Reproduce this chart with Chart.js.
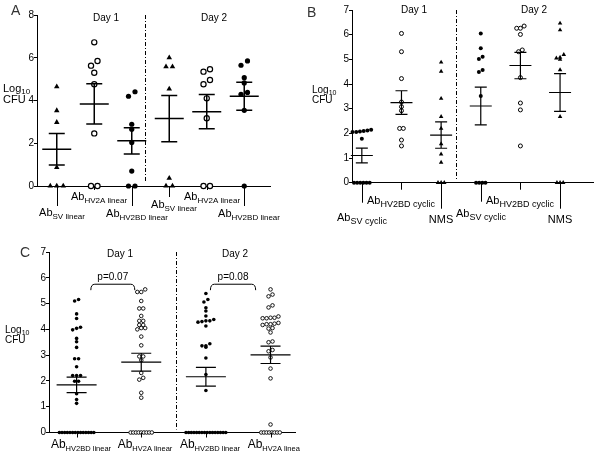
<!DOCTYPE html>
<html>
<head>
<meta charset="utf-8">
<script src="https://cdn.jsdelivr.net/npm/chart.js@4.4.1/dist/chart.umd.min.js"></script>
<style>
  html, body { margin: 0; padding: 0; background: #fff; }
  #wrap { position: relative; width: 598px; height: 459px; }
  canvas { position: absolute; }
</style>
</head>
<body>
<div id="wrap">
  <canvas id="chartA" width="300" height="228" style="left:0;top:0"></canvas>
  <canvas id="chartB" width="298" height="228" style="left:300px;top:0"></canvas>
  <canvas id="chartC" width="300" height="231" style="left:0;top:228px"></canvas>
</div>
<script>
// log10 CFU per animal

// Panel A
const labelsA = [['Ab', 'SV linear'], ['Ab', 'HV2A linear'], ['Ab', 'HV2BD linear'],
                 ['Ab', 'SV linear'], ['Ab', 'HV2A linear'], ['Ab', 'HV2BD linear']];
const markersA = ['tri', 'open', 'filled', 'tri', 'open', 'filled'];
const aSvDay1 = [4.65, 3.53, 2.98, 0.87, 0, 0, 0];
const aHv2aDay1 = [6.72, 5.85, 5.63, 5.30, 4.76, 2.46, 0, 0];
const aHv2bdDay1 = [4.41, 4.20, 2.89, 2.65, 2.04, 0.70, 0, 0];
const aSvDay2 = [6.0, 5.58, 5.58, 4.54, 0.37, 0, 0];
const aHv2aDay2 = [5.46, 5.35, 4.96, 4.76, 4.10, 3.17, 0, 0];
const aHv2bdDay2 = [5.85, 5.65, 5.07, 4.82, 4.38, 4.29, 3.54, 0];
const yTicksA = [0, 2, 4, 6, 8];

// Panel B
const labelsB = [['Ab', 'SV cyclic'], ['Ab', 'HV2BD cyclic'], ['NMS', ''],
                 ['Ab', 'SV cyclic'], ['Ab', 'HV2BD cyclic'], ['NMS', '']];
const markersB = ['filled', 'open', 'tri', 'filled', 'open', 'tri'];
const bSvDay1 = [2.15, 2.12, 2.10, 2.08, 2.05, 2.05, 1.78, 0, 0, 0, 0, 0, 0];
const bHv2bdDay1 = [6.05, 5.31, 4.22, 3.27, 3.08, 2.92, 2.20, 2.20, 1.73, 1.49];
const bNmsDay1 = [4.88, 4.51, 3.41, 2.68, 2.20, 1.57, 1.16, 0.82, 0, 0, 0];
const bSvDay2 = [6.05, 5.45, 5.11, 5.01, 4.57, 4.49, 3.51, 0, 0, 0, 0];
const bHv2bdDay2 = [6.35, 6.26, 6.26, 6.01, 5.38, 5.31, 4.26, 3.23, 2.95, 1.49];
const bNmsDay2 = [6.46, 6.19, 5.19, 5.08, 5.05, 5.00, 4.57, 2.68, 0, 0, 0];
const yTicksB = [0, 1, 2, 3, 4, 5, 6, 7];

// Panel C
const labelsC = [['Ab', 'HV2BD linear'], ['Ab', 'HV2A linear'], ['Ab', 'HV2BD linear'], ['Ab', 'HV2A linear']];
const markersC = ['filled', 'open', 'filled', 'open'];
const cHv2bdDay1 = [5.16, 5.10, 4.60, 4.42, 4.08, 4.04, 3.98, 3.65, 3.52, 3.30, 2.86, 2.86, 2.55,
                    2.21, 2.21, 2.21, 1.99, 1.99, 1.50, 1.28, 1.13,
                    0, 0, 0, 0, 0, 0, 0, 0, 0, 0, 0, 0, 0, 0];
const cHv2aDay1 = [5.55, 5.45, 5.45, 5.10, 4.81, 4.81, 4.52, 4.33, 4.33, 4.17, 4.17, 4.05, 4.05,
                   4.00, 3.72, 3.38, 2.95, 2.95, 2.80, 2.31, 2.12, 2.05, 1.54, 1.35,
                   0, 0, 0, 0, 0, 0, 0, 0, 0];
const cHv2bdDay2 = [5.39, 5.16, 5.06, 4.84, 4.71, 4.52, 4.38, 4.33, 4.33, 4.30, 4.28, 4.13,
                    3.44, 3.36, 3.36, 3.31, 2.89, 2.25, 1.63,
                    0, 0, 0, 0, 0, 0, 0, 0, 0, 0, 0, 0, 0, 0, 0, 0];
const cHv2aDay2 = [5.55, 5.35, 5.28, 4.93, 4.85, 4.50, 4.45, 4.45, 4.43, 4.43, 4.25, 4.22, 4.20,
                   4.20, 4.17, 4.05, 4.03, 3.88, 3.53, 3.50, 3.20, 3.15, 2.91, 2.48, 2.10, 0.31,
                   0, 0, 0, 0, 0, 0, 0, 0];
const yTicksC = [0, 1, 2, 3, 4, 5, 6, 7];
const pLabels = ['p=0.07', 'p=0.08'];

const dayLabels = ['Day 1', 'Day 2'];
const FONT = '"Liberation Sans", Arial, Helvetica, sans-serif';

// panel settings, looked up by canvas id in the plugin
const panels = {};

// spread points of similar height side by side (column scatter)
function swarm(values, pos, spacing, zeroSpacing, thresh) {
    const sorted = [...values].sort((a, b) => b - a);
    const clusters = [];
    sorted.forEach(v => {
        const last = clusters[clusters.length - 1];
        if (last && last[0] - v <= thresh) last.push(v);
        else clusters.push([v]);
    });
    const pts = [];
    clusters.forEach(c => {
        c.sort((a, b) => a - b);
        const sp = c[0] === 0 ? zeroSpacing : spacing;
        c.forEach((v, k) => pts.push({ x: pos + (k - (c.length - 1) / 2) * sp, y: v }));
    });
    return pts;
}

function drawLabel(ctx, parts, cx, baseline, mainSize, subSize) {
    const [main, sub] = parts;
    ctx.font = mainSize + 'px ' + FONT;
    const w1 = ctx.measureText(main).width;
    let w2 = 0;
    if (sub) {
        ctx.font = subSize + 'px ' + FONT;
        w2 = ctx.measureText(sub).width;
    }
    const x0 = cx - (w1 + w2) / 2;
    ctx.textAlign = 'left';
    ctx.textBaseline = 'alphabetic';
    ctx.font = mainSize + 'px ' + FONT;
    ctx.fillText(main, x0, baseline);
    if (sub) {
        ctx.font = subSize + 'px ' + FONT;
        ctx.fillText(sub, x0 + w1, baseline + 3);
    }
}

const decor = {
    id: 'decor',
    afterDatasetsDraw(chart) {
        const o = panels[chart.canvas.id];
        const ctx = chart.ctx;
        const xs = chart.scales.x, ys = chart.scales.y, area = chart.chartArea;
        ctx.save();
        ctx.strokeStyle = '#000';
        ctx.fillStyle = '#000';

        // mean and SEM bars
        o.series.forEach((vals, i) => {
            const n = vals.length;
            const mean = vals.reduce((s, v) => s + v, 0) / n;
            const sd = Math.sqrt(vals.reduce((s, v) => s + (v - mean) ** 2, 0) / (n - 1));
            const sem = sd / Math.sqrt(n);
            const cx = xs.getPixelForValue(i);
            const ym = ys.getPixelForValue(mean);
            const yt = ys.getPixelForValue(mean + sem);
            const yb = ys.getPixelForValue(mean - sem);
            ctx.lineWidth = o.barWidth;
            ctx.beginPath();
            ctx.moveTo(cx - o.meanHalf, ym); ctx.lineTo(cx + o.meanHalf, ym);
            ctx.moveTo(cx - o.capHalf, yt); ctx.lineTo(cx + o.capHalf, yt);
            ctx.moveTo(cx - o.capHalf, yb); ctx.lineTo(cx + o.capHalf, yb);
            ctx.moveTo(cx, yt); ctx.lineTo(cx, yb);
            ctx.stroke();
        });

        // category ticks and labels under the axis
        o.labels.forEach((lab, i) => {
            const cx = Math.round(xs.getPixelForValue(i));
            ctx.fillRect(cx, area.bottom, 1, o.tickLen[i]);
            drawLabel(ctx, lab, cx + o.labelDx, area.bottom + o.labelDy[i], o.mainSize, o.subSize);
        });

        // dash-dot day divider
        const dx = Math.round(xs.getPixelForValue(o.divider)) + 0.5;
        ctx.lineWidth = 1;
        ctx.setLineDash([4, 2, 1, 2]);
        ctx.beginPath();
        ctx.moveTo(dx, area.top);
        ctx.lineTo(dx, area.bottom - 3);
        ctx.stroke();
        ctx.setLineDash([]);

        // day headers
        ctx.font = o.dayFont + 'px ' + FONT;
        ctx.textAlign = 'center';
        ctx.textBaseline = 'middle';
        o.days.forEach((d, i) => ctx.fillText(dayLabels[i], d[0], d[1]));

        // y title: Log10 CFU
        const [tx, b1, b2, ts] = o.yTitle;
        ctx.textAlign = 'left';
        ctx.textBaseline = 'alphabetic';
        ctx.font = ts + 'px ' + FONT;
        const lw = ctx.measureText('Log').width;
        ctx.fillText('Log', tx, b1);
        ctx.fillText('CFU', tx, b2);
        ctx.font = Math.round(ts * 0.7) + 'px ' + FONT;
        ctx.fillText('10', tx + lw, b1 + 2);

        // panel letter
        ctx.fillStyle = '#333';
        ctx.font = o.letter[3] + 'px ' + FONT;
        ctx.fillText(o.letter[0], o.letter[1], o.letter[2]);
        ctx.fillStyle = '#000';

        // significance brackets
        (o.brackets || []).forEach((b, i) => {
            const x1 = xs.getPixelForValue(b.from), x2 = xs.getPixelForValue(b.to);
            const yTop = ys.getPixelForValue(b.y), yEnd = ys.getPixelForValue(b.y - b.drop);
            const r = 4;
            ctx.lineWidth = 1;
            ctx.beginPath();
            ctx.moveTo(x1, yEnd);
            ctx.quadraticCurveTo(x1, yTop, x1 + r, yTop);
            ctx.lineTo(x2 - r, yTop);
            ctx.quadraticCurveTo(x2, yTop, x2, yEnd);
            ctx.stroke();
            ctx.font = '10px ' + FONT;
            ctx.textAlign = 'center';
            ctx.textBaseline = 'alphabetic';
            ctx.fillText(pLabels[i], (x1 + x2) / 2, yTop - 4);
        });
        ctx.restore();
    }
};

function makePanel(id, spec) {
    panels[id] = spec;
    const datasets = spec.series.map((vals, i) => {
        const kind = spec.markers[i];
        return {
            data: swarm(vals, i, spec.spacing, spec.zeroSpacing, spec.thresh),
            pointStyle: kind === 'tri' ? 'triangle' : 'circle',
            pointRadius: kind === 'tri' ? spec.triRadius : spec.radius,
            pointBackgroundColor: kind === 'open' ? '#fff' : '#000',
            pointBorderColor: '#000',
            pointBorderWidth: kind === 'open' ? spec.openWidth : 0,
            clip: false
        };
    });
    new Chart(document.getElementById(id), {
        type: 'scatter',
        data: { datasets: datasets },
        options: {
            responsive: false,
            animation: false,
            events: [],
            layout: { padding: { top: spec.padTop, right: spec.padRight, left: 0, bottom: 0 } },
            plugins: {
                legend: { display: false },
                tooltip: { enabled: false }
            },
            scales: {
                x: {
                    type: 'linear',
                    min: spec.xMin,
                    max: spec.xMax,
                    grid: { display: false },
                    ticks: { display: false },
                    border: { display: true, color: '#000', width: 1 },
                    afterFit: s => { s.height = spec.xHeight; }
                },
                y: {
                    min: 0,
                    max: spec.yMax,
                    afterBuildTicks: s => { s.ticks = spec.yTicks.map(v => ({ value: v })); },
                    grid: { drawOnChartArea: false, drawTicks: true, tickLength: 3, color: '#000' },
                    border: { display: true, color: '#000', width: 1 },
                    ticks: { padding: 0, color: '#000', font: { family: FONT, size: spec.tickFont } },
                    afterFit: s => { s.width = spec.yWidth; }
                }
            }
        },
        plugins: [decor]
    });
}

makePanel('chartA', {
    series: [aSvDay1, aHv2aDay1, aHv2bdDay1, aSvDay2, aHv2aDay2, aHv2bdDay2],
    markers: markersA, labels: labelsA, yTicks: yTicksA, yMax: 8,
    xMin: -0.527, xMax: 5.687,
    padTop: 15, padRight: 30, yWidth: 37, xHeight: 42,
    spacing: 0.173, zeroSpacing: 0.173, thresh: 0.23,
    radius: 2.6, triRadius: 3.2, openWidth: 1.2,
    barWidth: 1.5, meanHalf: 14.5, capHalf: 8,
    tickLen: [20, 4, 20, 11, 4, 20], labelDy: [30, 14, 31, 22, 14, 31], labelDx: 5,
    mainSize: 11, subSize: 8, tickFont: 10,
    divider: 2.35, days: [[106, 18], [214, 18]], dayFont: 10,
    letter: ['A', 11, 15, 14], yTitle: [3, 92, 103, 11]
});

makePanel('chartB', {
    series: [bSvDay1, bHv2bdDay1, bNmsDay1, bSvDay2, bHv2bdDay2, bNmsDay2],
    markers: markersB, labels: labelsB, yTicks: yTicksB, yMax: 7,
    xMin: -0.248, xMax: 5.831,
    padTop: 10, padRight: 1, yWidth: 52, xHeight: 45.3,
    spacing: 0.094, zeroSpacing: 0.079, thresh: 0.16,
    radius: 2, triRadius: 2.6, openWidth: 1,
    barWidth: 1.2, meanHalf: 11, capHalf: 6,
    tickLen: [20, 7, 26, 19, 7, 26], labelDy: [38, 21, 40, 34, 21, 40], labelDx: 0,
    mainSize: 11, subSize: 9, tickFont: 10,
    divider: 2.38, days: [[114, 10], [234, 10]], dayFont: 10,
    letter: ['B', 7, 17, 14], yTitle: [12, 93, 103, 10]
});

makePanel('chartC', {
    series: [cHv2bdDay1, cHv2aDay1, cHv2bdDay2, cHv2aDay2],
    markers: markersC, labels: labelsC, yTicks: yTicksC, yMax: 7,
    xMin: -0.427, xMax: 3.38,
    padTop: 24, padRight: 2, yWidth: 49, xHeight: 26.5,
    spacing: 0.061, zeroSpacing: 0.041, thresh: 0.12,
    radius: 1.8, triRadius: 2.4, openWidth: 0.9,
    barWidth: 1.2, meanHalf: 20, capHalf: 10,
    tickLen: [5, 5, 5, 5], labelDy: [15.5, 15.5, 15.5, 15.5], labelDx: 4,
    mainSize: 12, subSize: 7.5, tickFont: 10,
    divider: 1.53, days: [[120, 26], [235, 26]], dayFont: 10,
    letter: ['C', 20, 29, 14], yTitle: [5, 105, 115, 10],
    brackets: [{ from: 0.22, to: 0.90, y: 5.75, drop: 0.23 },
               { from: 2.07, to: 2.77, y: 5.75, drop: 0.23 }]
});
</script>
</body>
</html>
